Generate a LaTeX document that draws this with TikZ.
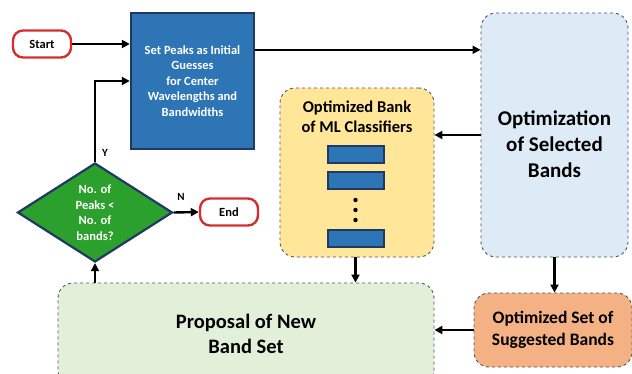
\documentclass[tikz,border=0pt]{standalone}
\usepackage{fontspec}
\setmainfont{Carlito}
\usetikzlibrary{arrows.meta, positioning, shapes.geometric, calc}
\definecolor{cnavy}{HTML}{1F3864}
\definecolor{cblue}{HTML}{2E75B6}
\definecolor{cgreen}{HTML}{2CA02C}
\definecolor{cred}{HTML}{D32F2F}
\definecolor{cdash}{HTML}{44546A}
\definecolor{clblue}{HTML}{DEEBF7}
\definecolor{cyellow}{HTML}{FFE699}
\definecolor{corange}{HTML}{F4B183}
\definecolor{clgreen}{HTML}{E2F0D9}
\tikzset{
  every picture/.style={font=\bfseries},
  term/.style={draw=cred, fill=white, rounded corners=10pt, line width=2.4pt, minimum width=58pt, minimum height=27pt, inner sep=0pt, font=\bfseries\fontsize{12.5}{15}\selectfont},
  procbox/.style={draw=cnavy, fill=cblue, line width=2.4pt, text=white, align=center, inner sep=0pt, font=\bfseries\fontsize{12.5}{15.5}\selectfont},
  decbox/.style={diamond, draw=cnavy, fill=cgreen, line width=2.2pt, text=white, align=center, inner sep=0pt, font=\bfseries\fontsize{12.5}{15.5}\selectfont},
  panel/.style={draw=cdash, fill=#1, dashed, line width=0.9pt, rounded corners=15pt, align=center, inner sep=0pt},
  clf/.style={draw=cnavy, fill=cblue, line width=2pt, minimum width=56pt, minimum height=17pt, inner sep=0pt},
  arrow/.style={-{Triangle[length=8pt, width=8pt]}, draw=black, line width=2.4pt},
  lbl/.style={font=\bfseries\fontsize{11}{13}\selectfont, inner sep=0pt},
}
\begin{document}
\begin{tikzpicture}[x=1pt, y=-1pt]
  \useasboundingbox (0,0) rectangle (632,373);
  % terminals and first step
  \node[term] (start) at (42,44) {Start};
  \node[procbox, minimum width=123pt, minimum height=136pt] (setp) at (192.5,81) {Set Peaks as Initial\\Guesses\\for Center\\Wavelengths and\\Bandwidths};
  \node[decbox, minimum width=155pt, minimum height=99pt, aspect=1.55] (dec) at (95,212.5) {No. of\\Peaks <\\No. of\\bands?};
  \node[term] (end) at (229,212) {End};
  % dashed panels
  \node[panel=clblue, minimum width=147pt, minimum height=244pt] (opt) at (554.5,135) {};
  \node[align=center, inner sep=0pt, font=\bfseries\fontsize{21}{25.7}\selectfont] (opttext) at ([yshift=-9pt]opt.center) {Optimization\\of Selected\\Bands};
  \node[panel=cyellow, minimum width=154pt, minimum height=169pt] (bank) at (357,172.5) {};
  \node[anchor=north, align=center, inner sep=0pt, font=\bfseries\fontsize{16.5}{20}\selectfont] (banktitle) at ([yshift=-13pt]bank.north) {Optimized Bank\\of ML Classifiers};
  \foreach \n/\y in {c1/154, c2/180.5, cn/238} {
    \node[clf] (\n) at (355.5,\y) {};
  }
  \foreach \y in {200, 210, 220} { \fill (355.5,\y) circle (2.2pt); }
  \node[panel=corange, minimum width=158pt, minimum height=74pt, font=\bfseries\fontsize{17.5}{21.7}\selectfont] (sug) at (553,330) {Optimized Set of\\Suggested Bands};
  \node[panel=clgreen, minimum width=376pt, minimum height=102pt, font=\bfseries\fontsize{20.5}{25}\selectfont] (prop) at (246,334) {Proposal of New\\Band Set};
  % connectors
  \draw[arrow] (start.east) -- (start.east -| setp.west);
  \draw[arrow] ([yshift=-38pt]setp.north east) -- ([yshift=-38pt]setp.north east -| opt.west);
  \draw[arrow] (opt.west) -- (opt.west -| bank.east);
  \draw[arrow] (bank.south -| cn) -- (cn |- prop.north);
  \draw[arrow] (opt.south) -- (opt.south |- sug.north);
  \draw[arrow] (sug.west) -- (sug.west -| prop.east);
  \draw[arrow] (dec.south |- prop.north) -- (dec.south);
  \draw[arrow] (dec.north) |- (setp.west);
  \draw[arrow] (dec.east) -- (end.west);
  \node[lbl] (ylbl) at (105,153) {Y};
  \node[lbl] (nlbl) at (181,197) {N};
\end{tikzpicture}
\end{document}
